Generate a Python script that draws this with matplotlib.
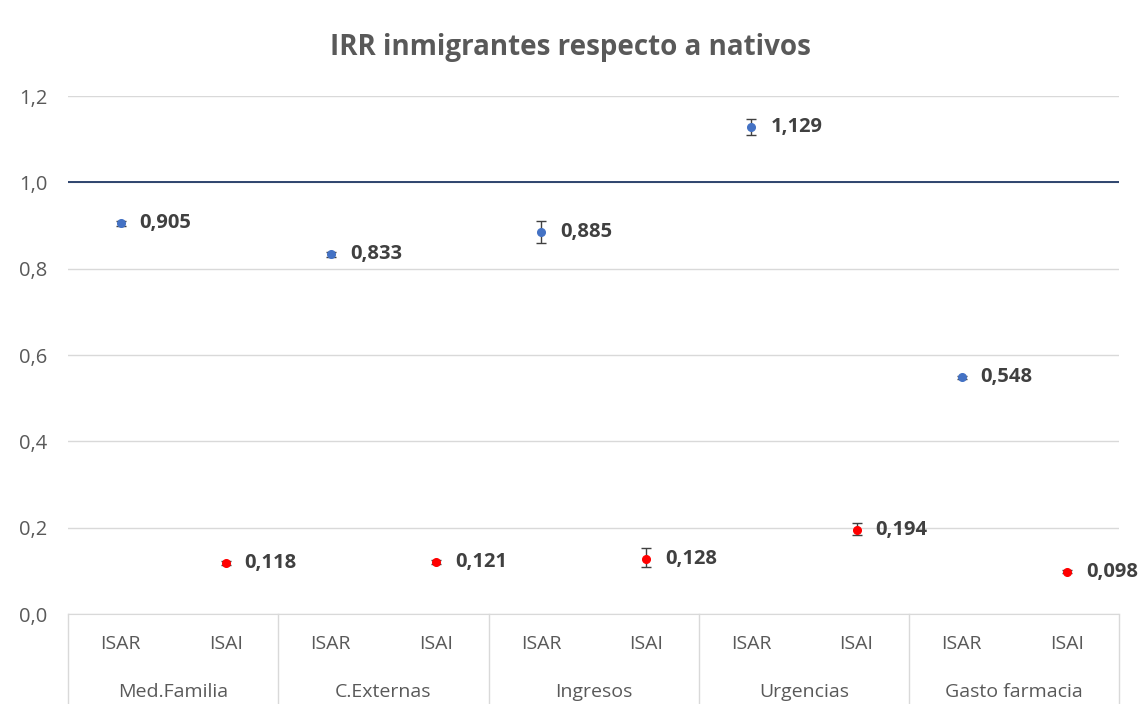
import matplotlib.pyplot as plt
from matplotlib.ticker import FuncFormatter, MultipleLocator
import matplotlib.transforms as mtrans

plt.rcParams['font.family'] = ['Open Sans', 'DejaVu Sans']

# data
groups = ['Med.Familia', 'C.Externas', 'Ingresos', 'Urgencias', 'Gasto farmacia']
subcats = ['ISAR', 'ISAI']
isar = [0.905, 0.833, 0.885, 1.129, 0.548]
isar_lo = [0.899, 0.827, 0.860, 1.110, 0.544]
isar_hi = [0.911, 0.839, 0.911, 1.147, 0.552]
isai = [0.118, 0.121, 0.128, 0.194, 0.098]
isai_lo = [0.113, 0.116, 0.109, 0.182, 0.094]
isai_hi = [0.123, 0.126, 0.152, 0.210, 0.102]

fig = plt.figure(figsize=(11.4, 7.04), dpi=100)
ax = fig.add_axes([0.0596, 0.1278, 0.9224, 0.7358])

blue = '#4472C4'
red = '#FF0000'
err_col = '#404040'

x_isar = [2 * i for i in range(len(groups))]
x_isai = [2 * i + 1 for i in range(len(groups))]

def draw(xs, vals, lo, hi, col):
    yerr = [[v - l for v, l in zip(vals, lo)], [h - v for v, h in zip(vals, hi)]]
    ax.errorbar(xs, vals, yerr=yerr, fmt='none', ecolor=err_col, elinewidth=1,
                capsize=3.5, capthick=1, zorder=3)
    ax.plot(xs, vals, 'o', color=col, markersize=5.5, zorder=4, linestyle='none')
    off = mtrans.offset_copy(ax.transData, fig=fig, x=19, y=0, units='dots')
    for x, v in zip(xs, vals):
        ax.text(x, v, f'{v:.3f}'.replace('.', ','), transform=off, ha='left',
                va='center', fontsize=14.5, fontweight='bold', color='#404040')

draw(x_isar, isar, isar_lo, isar_hi, blue)
draw(x_isai, isai, isai_lo, isai_hi, red)

ax.set_xlim(-0.5, 2 * len(groups) - 0.5)
ax.set_ylim(0, 1.2)
ax.yaxis.set_major_locator(MultipleLocator(0.2))
ax.yaxis.set_major_formatter(FuncFormatter(lambda v, p: f'{v:.1f}'.replace('.', ',')))
ax.tick_params(axis='y', length=0, labelsize=14.5, labelcolor='#595959', pad=15)
ax.tick_params(axis='x', length=0, labelbottom=False)
ax.grid(axis='y', color='#D9D9D9', linewidth=1)
ax.set_axisbelow(True)
for s in ['top', 'right', 'left']:
    ax.spines[s].set_visible(False)
ax.spines['bottom'].set_color('#D9D9D9')

ax.axhline(1.0, color='#1F3864', linewidth=1.3, zorder=2)

# two-level category axis
tr = ax.get_xaxis_transform()
for i in range(len(groups) + 1):
    ax.plot([2 * i - 0.5, 2 * i - 0.5], [0, -0.2], transform=tr, color='#D9D9D9',
            linewidth=1, clip_on=False)
for i, g in enumerate(groups):
    for j, s in enumerate(subcats):
        ax.text(2 * i + j, -0.057, s, transform=tr, ha='center', va='center',
                fontsize=14, color='#595959')
    ax.text(2 * i + 0.5, -0.151, g, transform=tr, ha='center', va='center',
            fontsize=14, color='#595959')

fig.text(0.5, 0.933, 'IRR inmigrantes respecto a nativos', ha='center', va='center',
         fontsize=20, fontweight='bold', color='#595959')

fig.savefig('out.png', dpi=100)
